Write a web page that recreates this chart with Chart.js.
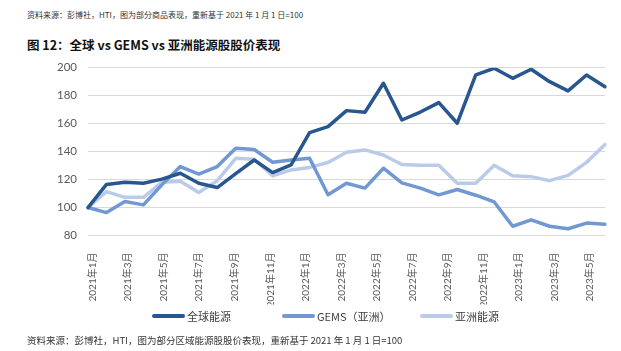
<!DOCTYPE html>
<html>
<head>
<meta charset="utf-8">
<script src="https://cdn.jsdelivr.net/npm/chart.js@4.4.1/dist/chart.umd.min.js"></script>
<style>
    html, body { margin: 0; padding: 0; background: #fff; }
    body { width: 621px; height: 351px; position: relative; overflow: hidden; font-family: "Noto Sans CJK SC", sans-serif; }
    .note { position: absolute; left: 27px; color: #333; white-space: nowrap; line-height: 1; }
    #srcTop { top: 11px; font-size: 8px; }
    #srcBottom { top: 336px; font-size: 9.5px; }
    #title { position: absolute; left: 27px; top: 39px; font-size: 12.5px; font-weight: bold; color: #111; white-space: nowrap; line-height: 1; }
    #chartWrap { position: absolute; left: 0; top: 55px; width: 621px; height: 255px; }
    #legend { position: absolute; left: 0; top: 308px; width: 621px; height: 16px; }
    .lg-item { position: absolute; top: 0; height: 16px; display: flex; align-items: center; font-size: 11px; color: #404040; white-space: nowrap; }
    .lg-item i { display: inline-block; width: 33px; height: 4.5px; margin-right: 2px; border-radius: 2px; }
    .lg-item:nth-child(1) { left: 152px; }
    .lg-item:nth-child(2) { left: 282px; }
    .lg-item:nth-child(3) { left: 420px; }
</style>
</head>
<body>
<div class="note" id="srcTop">资料来源：彭博社，HTI，图为部分商品表现，重新基于 2021 年 1 月 1 日=100</div>
<div id="title">图 12：全球 vs GEMS vs 亚洲能源股股价表现</div>
<div id="chartWrap"><canvas id="perfChart" width="621" height="255"></canvas></div>
<div id="legend"></div>
<div class="note" id="srcBottom">资料来源：彭博社，HTI，图为部分区域能源股股价表现，重新基于 2021 年 1 月 1 日=100</div>

<script>
// monthly points, Jan 2021 - May 2023 (rebased, 2021-01-01 = 100)
const months = [
    '2021年1月', '2021年2月', '2021年3月', '2021年4月', '2021年5月', '2021年6月',
    '2021年7月', '2021年8月', '2021年9月', '2021年10月', '2021年11月', '2021年12月',
    '2022年1月', '2022年2月', '2022年3月', '2022年4月', '2022年5月', '2022年6月',
    '2022年7月', '2022年8月', '2022年9月', '2022年10月', '2022年11月', '2022年12月',
    '2023年1月', '2023年2月', '2023年3月', '2023年4月', '2023年5月'
];

// axis only shows every other month
const tickLabels = [
    '2021年1月', '2021年3月', '2021年5月', '2021年7月', '2021年9月', '2021年11月',
    '2022年1月', '2022年3月', '2022年5月', '2022年7月', '2022年9月', '2022年11月',
    '2023年1月', '2023年3月', '2023年5月'
];

const globalEnergy = [100, 116.5, 118, 117.4, 120.3, 124.5, 117.4, 114.3, 124.3, 134, 125, 130.5,
    153.6, 157.9, 169.3, 168.1, 188.9, 162.6, 168.3, 175, 160.3, 194.8, 199.6, 192.4,
    198.9, 190, 183.4, 194.8, 186.4];

const gemsAsia = [100, 96.4, 104.3, 101.9, 116.2, 129.3, 123.9, 129.3, 142.4, 141.5, 132.4, 134,
    135.3, 109.1, 117.4, 113.9, 128.1, 117.6, 113.9, 109.1, 112.9, 108.8, 104, 86.6,
    91.2, 86.6, 84.8, 88.9, 88.1];

const asiaEnergy = [100, 111.4, 107.3, 107.3, 118, 118.8, 110.8, 119.2, 135.2, 134.5, 122.7, 126.9,
    128.7, 132.2, 139.5, 141.2, 137.6, 130.8, 130.2, 130.2, 117.4, 117.4, 130.2, 122.7,
    122.1, 119.2, 123, 132.3, 145];

const seriesNames = ['全球能源', 'GEMS（亚洲）', '亚洲能源'];
const seriesColors = ['#28568f', '#7198d2', '#b9cbe8'];

const numFont = 'Lato, "Noto Sans CJK SC", sans-serif';

function makeLine(label, data, color) {
    return {
        label: label,
        data: data,
        xAxisID: 'x',
        yAxisID: 'y',
        borderColor: color,
        backgroundColor: color,
        borderWidth: 3.5,
        pointRadius: 0,
        tension: 0,
        borderJoinStyle: 'round',
        borderCapStyle: 'round'
    };
}

const ctx = document.getElementById('perfChart');

const chart = new Chart(ctx, {
    type: 'line',
    data: {
        labels: months,
        datasets: [
            makeLine(seriesNames[0], globalEnergy, seriesColors[0]),
            makeLine(seriesNames[1], gemsAsia, seriesColors[1]),
            makeLine(seriesNames[2], asiaEnergy, seriesColors[2])
        ]
    },
    options: {
        responsive: false,
        animation: false,
        devicePixelRatio: 1,
        layout: {
            padding: { left: 56, right: 16, top: 12.7, bottom: 5.5 }
        },
        plugins: {
            tooltip: { enabled: false },
            legend: { display: false }
        },
        scales: {
            // data axis, one slot per month
            x: {
                type: 'category',
                display: false
            },
            // label axis, the source chart spaces its labels a bit tighter than the points
            x2: {
                type: 'linear',
                position: 'bottom',
                min: -0.26,
                max: 28.84,
                afterBuildTicks(scale) {
                    scale.ticks = tickLabels.map((_, i) => ({ value: i * 2 }));
                },
                afterFit(scale) {
                    scale.height = 69;
                },
                grid: { display: false },
                border: { display: false },
                ticks: {
                    autoSkip: false,
                    minRotation: 90,
                    maxRotation: 90,
                    padding: 9,
                    color: '#595959',
                    font: { family: numFont, size: 10 },
                    callback: (value, index) => tickLabels[index]
                }
            },
            y: {
                min: 80,
                max: 200,
                afterFit(scale) {
                    scale.width = 32;
                },
                ticks: {
                    stepSize: 20,
                    padding: 0,
                    color: '#595959',
                    font: { family: numFont, size: 11.5 }
                },
                // invisible tick marks used as the gap between labels and plot
                grid: { color: '#d9d9d9', drawTicks: true, tickLength: 11, tickColor: 'rgba(0,0,0,0)' },
                border: { display: false }
            }
        }
    }
});

// legend built from the datasets
const legendEl = document.getElementById('legend');
chart.data.datasets.forEach(ds => {
    const item = document.createElement('div');
    item.className = 'lg-item';
    item.innerHTML = `<i style="background:${ds.borderColor}"></i>${ds.label}`;
    legendEl.appendChild(item);
});
</script>
</body>
</html>
